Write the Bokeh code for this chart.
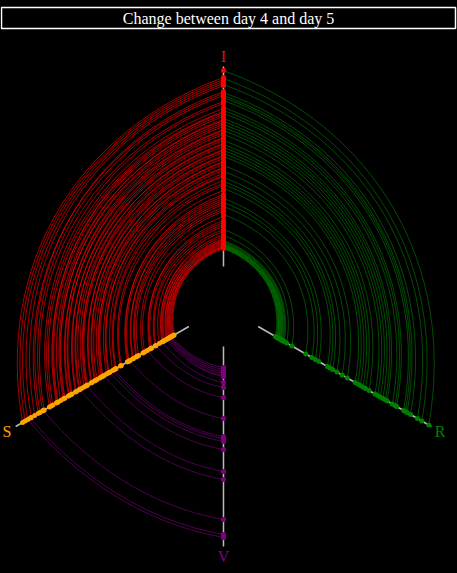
import math

from bokeh.core.properties import value
from bokeh.embed import file_html
from bokeh.models import ColumnDataSource, GlobalInlineStyleSheet, Range1d
from bokeh.plotting import figure
from bokeh.resources import INLINE

# Hive plot axes: angle is measured clockwise from the top (as in d3.hive)
axis_names = ["I", "R", "V", "S"]
axis_angles = [0, 120, 180, 240]
axis_colors = ["red", "green", "purple", "orange"]

R_INNER, R_OUTER = 40, 240

# S -> I links: radius of the node on the I axis and on the S axis
si_i = [58, 59, 60, 60, 61, 62, 63, 64, 65, 66, 67, 68, 70, 72, 75, 77, 80, 82, 84, 86,
        90, 95, 97, 99, 102, 104, 106, 108, 110, 112, 116, 121, 123, 126, 130, 131, 133, 136, 138, 139,
        142, 144, 145, 148, 150, 151, 154, 156, 157, 160, 162, 163, 166, 168, 169, 172, 174, 176, 177, 180,
        182, 184, 186, 187, 190, 192, 194, 195, 198, 203, 205, 211, 213, 215, 221, 223, 225, 227, 229]
si_s = [57, 58, 59, 61, 60, 62, 64, 63, 66, 65, 68, 69, 71, 70, 74, 78, 79, 83, 85, 84,
        91, 93, 98, 100, 101, 105, 104, 109, 111, 110, 118, 119, 124, 125, 128, 133, 132, 135, 139, 141,
        140, 146, 143, 149, 148, 153, 152, 157, 159, 158, 164, 161, 167, 166, 171, 170, 176, 175, 179, 178,
        184, 183, 188, 185, 191, 193, 192, 197, 199, 201, 207, 209, 214, 212, 218, 222, 226, 229, 232]

# I -> R links
ir_i = [58, 58, 59, 59, 60, 60, 61, 61, 62, 62, 63, 64, 65, 66, 71, 77, 92, 100, 104, 108,
        118, 122, 125, 129, 135, 141, 150, 153, 156, 159, 162, 166, 172, 176, 179, 182, 185, 188, 193, 196,
        199, 206, 209, 211, 214, 222, 228, 236]
ir_r = [60, 61, 62, 62, 63, 64, 64, 65, 66, 66, 67, 68, 69, 70, 73, 79, 95, 102, 106, 110,
        120, 123, 126, 131, 137, 143, 152, 155, 158, 161, 164, 168, 175, 178, 181, 184, 187, 189, 195, 198,
        200, 208, 210, 212, 216, 224, 229, 237]

# S -> V links
sv_s = [60, 61, 62, 63, 64, 66, 71, 78, 88, 108, 126, 128, 131, 138, 158, 166, 208, 223, 226]
sv_v = [61, 63, 65, 67, 69, 70, 76, 81, 91, 112, 130, 132, 135, 143, 165, 173, 213, 228, 231]


def pos(angle, r):
    a = math.radians(angle)
    return r * math.sin(a), r * math.cos(a)


def hive_links(a_src, r_src, a_tgt, r_tgt):
    # same curve as d3.hive.link: cubic bezier, controls at 1/3 and 2/3 of the angle
    cols = {k: [] for k in ["x0", "y0", "x1", "y1", "cx0", "cy0", "cx1", "cy1"]}
    for rs, rt in zip(r_src, r_tgt):
        s, t = [a_src, rs], [a_tgt, rt]
        if t[0] < s[0]:
            s, t = t, s
        if t[0] - s[0] > 180:
            s[0] += 360
        a1 = s[0] + (t[0] - s[0]) / 3
        a2 = t[0] - (t[0] - s[0]) / 3
        x0, y0 = pos(s[0], s[1])
        cx0, cy0 = pos(a1, s[1])
        cx1, cy1 = pos(a2, t[1])
        x1, y1 = pos(t[0], t[1])
        for k, v in zip(["x0", "y0", "x1", "y1", "cx0", "cy0", "cx1", "cy1"],
                        [x0, y0, x1, y1, cx0, cy0, cx1, cy1]):
            cols[k].append(v)
    return ColumnDataSource(cols)


p = figure(
    width=457,
    height=573,
    x_range=Range1d(-223, 234),
    y_range=Range1d(-267, 306),
    output_backend="svg",
    toolbar_location=None,
    min_border=0,
)
p.axis.visible = False
p.grid.visible = False
p.outline_line_color = None
p.background_fill_color = "black"
p.border_fill_color = "black"
p.stylesheets = [GlobalInlineStyleSheet(css="body { background-color: black; }")]

# axes
ax_x0, ax_y0, ax_x1, ax_y1 = [], [], [], []
for ang in axis_angles:
    x, y = pos(ang, R_INNER)
    ax_x0.append(x)
    ax_y0.append(y)
    x, y = pos(ang, R_OUTER)
    ax_x1.append(x)
    ax_y1.append(y)
p.segment(ax_x0, ax_y0, ax_x1, ax_y1, line_color="#bbbbbb", line_width=1.5)

# links
angle_of = dict(zip(axis_names, axis_angles))
p.bezier(x0="x0", y0="y0", x1="x1", y1="y1", cx0="cx0", cy0="cy0", cx1="cx1", cy1="cy1",
         source=hive_links(angle_of["S"], si_s, angle_of["I"], si_i),
         line_color="red", line_width=1, line_alpha=0.65)
p.bezier(x0="x0", y0="y0", x1="x1", y1="y1", cx0="cx0", cy0="cy0", cx1="cx1", cy1="cy1",
         source=hive_links(angle_of["I"], ir_i, angle_of["R"], ir_r),
         line_color="green", line_width=1, line_alpha=0.6)
p.bezier(x0="x0", y0="y0", x1="x1", y1="y1", cx0="cx0", cy0="cy0", cx1="cx1", cy1="cy1",
         source=hive_links(angle_of["S"], sv_s, angle_of["V"], sv_v),
         line_color="purple", line_width=1, line_alpha=0.6)

# nodes
node_radii = {"I": si_i + ir_i, "R": ir_r, "V": sv_v, "S": si_s + sv_s}
for name, ang, col in zip(axis_names, axis_angles, axis_colors):
    pts = [pos(ang, r) for r in sorted(set(node_radii[name]))]
    p.scatter([q[0] for q in pts], [q[1] for q in pts], size=5, fill_color=col, line_color=None)

# axis labels
lx, ly = zip(*[pos(ang, 250) for ang in axis_angles])
p.text(list(lx), list(ly), text=axis_names, text_color=axis_colors,
       text_font=value("Liberation Serif"), text_font_size="16px",
       text_align="center", text_baseline="middle")

# title box
p.quad(left=[-222], right=[232], top=[299], bottom=[278], fill_color=None,
       line_color="white", line_width=1.5)
p.text([5], [288.5], text=["Change between day 4 and day 5"], text_color="white",
       text_font=value("Liberation Serif"), text_font_size="16px",
       text_align="center", text_baseline="middle")

open("out.html", "w").write(file_html(p, INLINE))
